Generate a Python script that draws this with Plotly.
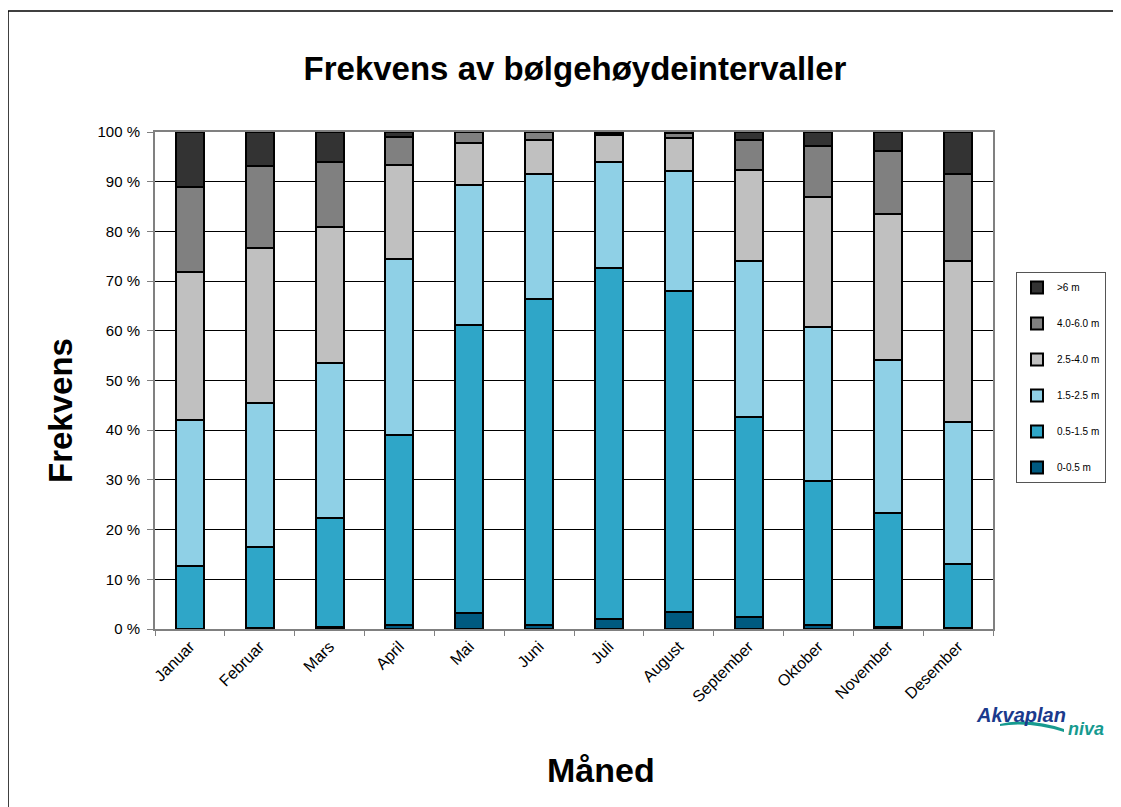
import plotly.graph_objects as go

months = ["Januar", "Februar", "Mars", "April", "Mai", "Juni", "Juli",
          "August", "September", "Oktober", "November", "Desember"]

s_0_05 = [0.0, 0.2, 0.5, 0.9, 3.2, 0.9, 2.1, 3.5, 2.5, 0.8, 0.5, 0.2]
s_05_15 = [12.7, 16.2, 21.8, 38.1, 58.0, 65.4, 70.5, 64.6, 40.2, 28.9, 22.8, 12.8]
s_15_25 = [29.3, 29.1, 31.2, 35.4, 28.1, 25.2, 21.3, 24.1, 31.3, 31.1, 30.8, 28.6]
s_25_40 = [29.9, 31.2, 27.3, 19.0, 8.4, 6.9, 5.4, 6.5, 18.4, 26.2, 29.4, 32.4]
s_40_60 = [17.0, 16.5, 13.2, 5.6, 2.3, 1.6, 0.4, 1.0, 5.9, 10.2, 12.7, 17.5]
s_gt6 = [11.1, 6.8, 6.0, 1.0, 0.0, 0.0, 0.3, 0.3, 1.7, 2.8, 3.8, 8.5]

series_names = ["0-0.5 m", "0.5-1.5 m", "1.5-2.5 m", "2.5-4.0 m", "4.0-6.0 m", ">6 m"]
series_values = [s_0_05, s_05_15, s_15_25, s_25_40, s_40_60, s_gt6]
colors = ["#005A80", "#2FA6C8", "#8FD0E6", "#C0C0C0", "#808080", "#333333"]

y_ticks = [0, 10, 20, 30, 40, 50, 60, 70, 80, 90, 100]

# page offset (browser body margin)
OX, OY = 8, 8
W, H = 1121 - OX, 807 - OY
PL, PR, PT, PB = 155, 993, 132, 629  # plot area in screen pixels
PW, PH = PR - PL, PB - PT


def px(x):
    return (x - PL) / PW


def py(y):
    return (PB - y) / PH


fig = go.Figure()
n = len(series_names)
for i, (name, vals, col) in enumerate(zip(series_names, series_values, colors)):
    fig.add_trace(go.Bar(
        x=months, y=vals, name=name, legendgroup=f"g{i}", legendrank=n - i,
        marker=dict(color=col, line=dict(color="black", width=2)),
        width=0.4,
    ))

fig.update_layout(
    barmode="stack",
    width=W, height=H,
    paper_bgcolor="white", plot_bgcolor="white",
    margin=dict(l=PL - OX, r=W - (PR - OX), t=PT - OY, b=H - (PB - OY)),
    font=dict(family="Arial, Liberation Sans, sans-serif", color="black", size=15),
    title=dict(text="<b>Frekvens av bølgehøydeintervaller</b>",
               x=(575 - OX) / W, xanchor="center", y=1 - (68 - OY) / H, yanchor="middle",
               font=dict(size=33, color="black")),
    showlegend=True,
    legend=dict(
        x=px(1016), xanchor="left", y=py(272), yanchor="top",
        bordercolor="#555555", borderwidth=1,
        traceorder="grouped", tracegroupgap=17,
        font=dict(size=10),
        itemwidth=30,
    ),
)

fig.update_xaxes(
    showline=True, linecolor="#808080", linewidth=2, mirror=True,
    ticks="outside", tickson="boundaries", ticklen=5, tickcolor="#808080",
    tickangle=-45, tickfont=dict(size=16),
)
fig.update_yaxes(
    range=[0, 100], tickvals=y_ticks, ticktext=[f"{v} %" for v in y_ticks],
    showgrid=True, gridcolor="black", gridwidth=1,
    showline=True, linecolor="#808080", linewidth=2, mirror=True,
    ticks="outside", ticklen=6, tickcolor="#808080",
    tickfont=dict(size=15), ticklabelstandoff=4,
)

# axis titles
fig.add_annotation(xref="paper", yref="paper", x=px(60), y=py(411),
                   xanchor="center", yanchor="middle", showarrow=False, textangle=-90,
                   text="<b>Frekvens</b>", font=dict(size=33))
fig.add_annotation(xref="paper", yref="paper", x=px(601), y=py(770),
                   xanchor="center", yanchor="middle", showarrow=False,
                   text="<b>Måned</b>", font=dict(size=34))

# outer frame
fig.add_shape(type="line", xref="paper", yref="paper",
              x0=px(8), x1=px(1125), y0=py(11), y1=py(11),
              line=dict(color="black", width=1.5))
fig.add_shape(type="line", xref="paper", yref="paper",
              x0=px(8), x1=px(8), y0=py(11), y1=py(815),
              line=dict(color="black", width=1.5))

# logo
fig.add_annotation(xref="paper", yref="paper", x=px(974), y=py(715),
                   xanchor="left", yanchor="middle", showarrow=False,
                   text="<b><i>Akvaplan</i></b>", font=dict(size=20, color="#1B3A8C"))
fig.add_annotation(xref="paper", yref="paper", x=px(1066), y=py(729),
                   xanchor="left", yanchor="middle", showarrow=False,
                   text="<b><i>niva</i></b>", font=dict(size=18, color="#169A8F"))
wave = (f"M {px(1000)} {py(724)} Q {px(1030)} {py(717)} {px(1064)} {py(729)} "
        f"L {px(1064)} {py(732)} Q {px(1030)} {py(721)} {px(1000)} {py(726)} Z")
fig.add_shape(type="path", xref="paper", yref="paper", path=wave,
              fillcolor="#169A8F", line=dict(width=0))

fig.write_html("out.html")
